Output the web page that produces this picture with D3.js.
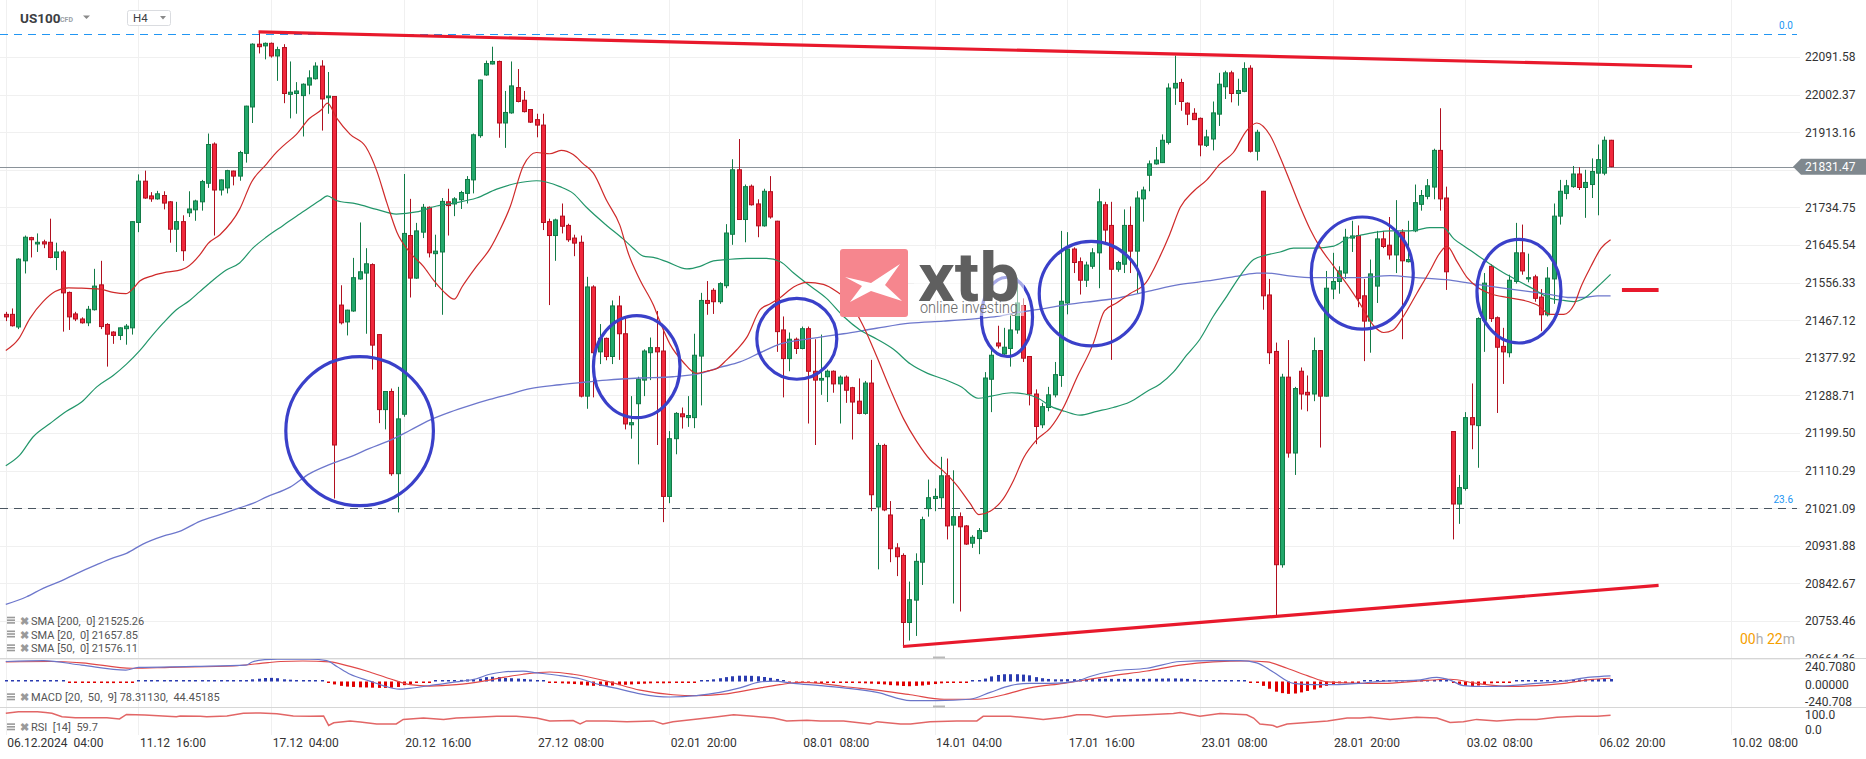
<!DOCTYPE html>
<html><head><meta charset="utf-8">
<script src="https://cdn.jsdelivr.net/npm/d3@7"></script>
<style>
html,body{margin:0;padding:0;background:#fff;}
svg{display:block;font-family:Roboto,"Noto Sans",sans-serif;}
text{white-space:pre;}
</style></head><body>
<svg id="chart" width="1866" height="759"></svg>
<script>
// ---------- DATA ----------
const ohlc = [
[21481,21487,21465,21475],[21481,21495,21452,21454],[21451,21614,21446,21612],[21608,21668,21578,21664],[21663,21665,21616,21658],
[21648,21673,21629,21652],[21653,21658,21638,21648],[21652,21708,21614,21616],[21616,21651,21586,21629],[21629,21633,21440,21532],
[21533,21535,21444,21475],[21482,21487,21465,21470],[21470,21474,21459,21461],[21461,21501,21453,21493],[21492,21589,21490,21548],
[21551,21608,21446,21452],[21457,21460,21357,21434],[21439,21441,21411,21431],[21431,21450,21420,21449],[21447,21458,21409,21453],
[21449,21702,21433,21701],[21699,21813,21676,21797],[21797,21822,21755,21757],[21762,21771,21748,21755],[21755,21774,21753,21767],
[21763,21773,21730,21745],[21748,21750,21651,21683],[21683,21748,21629,21701],[21701,21716,21608,21632],[21722,21773,21712,21731],
[21729,21753,21703,21750],[21748,21800,21727,21796],[21792,21910,21781,21884],[21885,21889,21668,21776],[21776,21801,21763,21800],
[21781,21824,21768,21822],[21821,21822,21787,21809],[21809,21869,21798,21865],[21863,21976,21841,21975],[21973,22124,21935,22122],
[22122,22151,22100,22116],[22118,22126,22086,22124],[22124,22126,22090,22094],[22094,22116,22035,22109],[22114,22122,21982,22005],
[22003,22081,21946,22008],[22005,22032,21957,22011],[22000,22029,21903,22027],[22025,22060,22003,22042],[22040,22079,22038,22070],
[22070,22084,21917,21992],[21995,22056,21957,21999],[21998,21999,21044,21171],[21503,21550,21457,21461],[21463,21492,21431,21491],
[21489,21615,21487,21568],[21565,21699,21563,21582],[21579,21638,21435,21601],[21599,21602,21350,21408],[21433,21434,21223,21255],
[21255,21299,21208,21298],[21298,21305,21098,21103],[21103,21309,21011,21233],[21244,21814,21238,21673],[21668,21755,21521,21567],
[21567,21698,21565,21679],[21676,21743,21662,21735],[21735,21737,21616,21627],[21625,21670,21546,21631],[21629,21757,21480,21749],
[21748,21779,21668,21739],[21743,21759,21714,21755],[21753,21774,21731,21770],[21768,21809,21744,21801],[21800,21910,21768,21907],
[21905,22038,21900,22037],[22049,22083,22047,22076],[22075,22116,22074,22081],[22081,22083,21900,21935],[21935,22011,21876,21960],
[21959,22081,21957,22023],[22019,22063,21984,21986],[21989,22011,21960,21962],[21967,21968,21935,21937],[21943,21957,21901,21930],
[21930,21957,21681,21699],[21701,21708,21503,21668],[21668,21708,21608,21705],[21714,21744,21673,21690],[21692,21696,21653,21658],
[21662,21670,21619,21650],[21652,21668,21284,21287],[21287,21570,21257,21546],[21546,21550,21284,21390],[21392,21458,21363,21424],
[21424,21426,21372,21381],[21381,21514,21363,21501],[21501,21525,21373,21435],[21435,21471,21208,21221],[21219,21287,21186,21224],
[21269,21333,21125,21327],[21325,21398,21287,21394],[21390,21426,21325,21402],[21402,21489,21171,21392],[21394,21446,20988,21049],
[21049,21204,21033,21186],[21186,21249,21149,21246],[21245,21260,21210,21238],[21236,21287,21214,21241],[21236,21435,21211,21384],
[21382,21532,21265,21514],[21514,21560,21480,21507],[21538,21543,21482,21511],[21511,21557,21506,21554],[21549,21695,21543,21674],
[21671,21849,21646,21824],[21824,21897,21705,21706],[21706,21789,21652,21784],[21785,21789,21739,21741],[21743,21754,21664,21691],
[21691,21779,21689,21773],[21772,21809,21708,21712],[21702,21703,21392,21440],[21444,21476,21284,21376],[21376,21438,21346,21422],
[21422,21426,21387,21400],[21400,21452,21398,21447],[21447,21452,21222,21346],[21346,21422,21171,21325],[21325,21433,21290,21329],
[21333,21350,21273,21346],[21346,21348,21295,21316],[21316,21336,21222,21332],[21332,21336,21271,21301],[21307,21309,21184,21273],
[21275,21329,21244,21246],[21246,21323,21243,21318],[21318,21373,21014,21053],[21024,21176,20876,21170],[21170,21174,21014,21017],
[21005,21038,20893,20925],[20927,20938,20860,20906],[20909,20914,20693,20750],[20750,20847,20707,20804],[20803,20914,20718,20895],
[20893,21001,20839,20994],[21020,21089,21001,21046],[21044,21068,21014,21049],[21046,21143,21022,21098],[21098,21139,20947,20979],
[20981,21111,20795,21001],[21001,21011,20776,20977],[20979,20981,20934,20936],[20938,20957,20927,20952],[20949,20974,20912,20968],
[20966,21344,20964,21330],[21327,21406,21249,21384],[21413,21454,21400,21406],[21387,21449,21384,21403],[21400,21481,21357,21444],
[21444,21568,21435,21508],[21502,21519,21368,21377],[21381,21382,21265,21292],[21292,21303,21173,21215],[21219,21271,21211,21262],
[21260,21309,21251,21290],[21290,21368,21284,21338],[21336,21679,21309,21512],[21508,21676,21481,21636],[21636,21640,21579,21604],
[21606,21616,21528,21562],[21562,21606,21546,21598],[21595,21638,21589,21627],[21627,21779,21543,21748],[21741,21748,21651,21681],
[21692,21748,21373,21588],[21588,21608,21582,21604],[21600,21730,21579,21692],[21692,21737,21579,21631],[21631,21773,21530,21757],
[21755,21784,21701,21776],[21811,21846,21773,21838],[21838,21878,21836,21847],[21841,21908,21840,21894],[21889,22029,21884,22018],
[22018,22095,21978,22029],[22031,22040,21964,21986],[21982,21984,21930,21956],[21958,21970,21942,21943],[21946,21948,21856,21883],
[21882,21919,21878,21902],[21897,21986,21870,21959],[21956,22054,21928,22027],[22021,22059,21992,22054],[22054,22059,21984,22005],
[22005,22040,21976,22012],[22010,22079,22008,22064],[22065,22072,21865,21868],[21868,21919,21846,21913],[21773,21774,21492,21525],
[21527,21565,21363,21390],[21393,21414,20763,20887],[20887,21340,20880,21332],[21332,21420,21141,21152],[21152,21309,21100,21305],
[21346,21355,21255,21292],[21296,21336,21251,21290],[21292,21426,21275,21395],[21395,21396,21165,21287],[21287,21584,21286,21543],
[21541,21627,21517,21559],[21559,21595,21530,21584],[21579,21684,21565,21664],[21662,21703,21629,21667],[21668,21692,21498,21519],
[21525,21565,21370,21465],[21465,21611,21390,21577],[21548,21679,21508,21660],[21660,21679,21638,21642],[21645,21712,21611,21622],
[21622,21752,21579,21676],[21676,21683,21422,21608],[21606,21703,21604,21611],[21679,21789,21676,21746],[21742,21776,21727,21763],
[21761,21802,21754,21786],[21783,21874,21754,21870],[21870,21970,21727,21755],[21757,21784,21539,21582],[21203,21204,20947,21031],
[21031,21100,20984,21070],[21068,21249,21063,21236],[21236,21317,21161,21219],[21217,21474,21117,21471],[21467,21579,21392,21555],
[21595,21600,21463,21471],[21473,21476,21247,21403],[21405,21449,21316,21392],[21390,21575,21379,21562],[21559,21698,21554,21627],
[21627,21694,21575,21584],[21565,21625,21557,21568],[21570,21575,21511,21519],[21522,21541,21441,21480],[21480,21593,21476,21567],
[21565,21744,21506,21714],[21714,21800,21694,21773],[21768,21800,21754,21786],[21784,21833,21781,21814],[21814,21830,21776,21782],
[21782,21824,21710,21794],[21789,21851,21757,21820],[21816,21884,21716,21848],[21816,21903,21811,21894],[21894,21895,21830,21831.47]
];

// moving averages: [candle number, value]
const sma20 = [[1,21395],[3,21422],[4.8,21471],[6.9,21511],[8.8,21535],[10.9,21544],[13,21543],[15.9,21541],[18,21533],[20,21530],[21.2,21543],[22.2,21560],[24.3,21573],[26.4,21581],[28.8,21587],[29.6,21592],[31.7,21622],[33,21649],[34.9,21670],[38,21730],[39.9,21795],[42.3,21838],[43.5,21860],[45,21882],[47,21908],[49,21945],[51,21967],[51.9,21982],[53.4,21946],[55.5,21908],[58,21878],[59.7,21822],[61.3,21746],[62.9,21676],[65,21627],[67.1,21595],[68.7,21562],[70.3,21535],[72,21517],[73.2,21546],[75.5,21595],[77.7,21638],[79.2,21681],[80.8,21735],[82.9,21833],[85,21865],[87.1,21862],[88.9,21870],[90.8,21860],[92.4,21838],[94,21816],[96.1,21751],[98.2,21692],[99.5,21627],[101.4,21562],[103.5,21503],[104.5,21465],[106.1,21411],[108.2,21368],[110.3,21341],[111.9,21346],[113.5,21352],[115.1,21373],[116.7,21397],[118.3,21427],[120.4,21492],[122,21506],[123.6,21521],[125.7,21546],[127.8,21557],[130.4,21552],[132.5,21535],[134.6,21508],[136.7,21454],[138.9,21379],[141,21303],[143.1,21233],[145.2,21179],[147.3,21136],[149.4,21109],[151.5,21076],[153.6,21033],[155,21006],[156.8,21014],[158.9,21044],[160.5,21087],[162.1,21141],[164.2,21184],[166.3,21211],[168.4,21260],[170.5,21330],[173.1,21411],[174.9,21489],[176.8,21508],[178.9,21530],[181.5,21557],[183.6,21616],[185.2,21670],[186.9,21735],[189,21773],[191.1,21800],[193.2,21838],[195.3,21865],[197.4,21917],[199,21935],[201.1,21906],[202.7,21854],[204.3,21795],[205.9,21735],[207.5,21681],[209.1,21638],[211.2,21595],[213.3,21552],[215.6,21500],[217.5,21454],[219.1,21438],[220.6,21444],[222.2,21476],[224.3,21530],[226.4,21584],[228,21627],[229.1,21643],[230.7,21606],[232.3,21568],[233.9,21546],[236,21530],[238.7,21521],[241.3,21514],[243.4,21503],[245.5,21481],[247.6,21481],[249.2,21503],[250.3,21546],[251.9,21595],[253.5,21638],[255,21658]];
const sma50 = [[1,21122],[3.2,21147],[5.3,21190],[8,21222],[10.6,21251],[13,21273],[15.4,21309],[18,21336],[20.1,21363],[22.2,21395],[23.8,21424],[25.9,21460],[28,21492],[30.1,21514],[31.7,21535],[33.8,21562],[35.9,21586],[38,21603],[40.1,21638],[42.3,21665],[44.9,21692],[47,21714],[49.1,21735],[50.7,21751],[51.9,21762],[53.3,21751],[56.5,21743],[59.7,21730],[62.8,21719],[66,21724],[69.2,21738],[72.3,21746],[75.5,21757],[78.7,21778],[81.8,21792],[85,21798],[88.7,21784],[90.8,21768],[92.9,21735],[96.1,21692],[98.7,21660],[100.3,21638],[101.9,21619],[103.5,21616],[105.6,21606],[108.8,21589],[110.9,21595],[113,21608],[115.1,21611],[118.3,21614],[121.4,21614],[123.6,21606],[125.7,21579],[127.8,21554],[130.9,21519],[133.6,21476],[136.2,21444],[138.9,21422],[141.5,21398],[144.2,21363],[146.9,21341],[149.5,21327],[152.2,21309],[154.9,21282],[157,21287],[160.2,21295],[162.3,21292],[164.4,21282],[166.5,21262],[168.6,21251],[171,21242],[173.7,21251],[176.3,21260],[178.9,21273],[181.6,21298],[183.7,21316],[185.8,21344],[187.9,21384],[190,21422],[192.1,21476],[194.3,21525],[196.4,21573],[198.5,21611],[200.6,21622],[202.7,21629],[204.8,21638],[208,21638],[211.2,21643],[213.5,21662],[215.9,21670],[218,21676],[220.1,21679],[222.2,21679],[224.3,21681],[226.4,21687],[228.5,21687],[230.2,21660],[232.3,21638],[234.9,21611],[237.6,21584],[240.2,21562],[242.8,21541],[245.5,21519],[247.6,21514],[249.2,21511],[250.8,21519],[252.9,21546],[255,21576]];
const sma200 = [[1,20793],[4.3,20811],[6.9,20831],[9.5,20847],[12.2,20866],[15.4,20887],[18,20903],[20.1,20914],[22.7,20936],[25.9,20955],[28.5,20966],[31.7,20990],[34.9,21006],[38,21022],[40.2,21033],[42.3,21048],[46,21071],[49.1,21103],[52.3,21125],[55.5,21143],[58.6,21163],[61.8,21182],[65,21206],[68.1,21230],[71.3,21249],[74.5,21265],[77.6,21279],[80.8,21292],[84,21305],[88.7,21314],[91.9,21319],[96.1,21325],[101.4,21330],[106.6,21333],[110.9,21341],[114,21355],[117.2,21368],[120.4,21390],[123.6,21411],[126.7,21420],[129.9,21427],[133.6,21435],[138.8,21448],[144.1,21460],[149.4,21465],[154.7,21471],[157.9,21476],[161,21485],[164.2,21492],[168.4,21503],[172,21510],[176.3,21518],[181.6,21535],[186.9,21552],[192.1,21562],[196.4,21573],[199,21579],[200.6,21579],[203.8,21573],[208,21568],[211.2,21568],[215.4,21568],[220.1,21573],[224.3,21568],[229.6,21562],[233.8,21552],[238,21543],[242.2,21535],[245.5,21528],[248.6,21521],[250.8,21521],[252.9,21525],[255,21525]];

// MACD [20,50,9]
const macdLine = [[1,275],[7,288],[13,225],[20,156],[22,194],[31,207],[39,225],[40,269],[42,300],[44,307],[46,307],[49.1,307],[51.8,288],[53.4,207],[55.5,100],[58.6,6],[60.7,-56],[63.3,-106],[64.9,-94],[69.1,-44],[72.3,-6],[75.5,38],[77.6,100],[79.7,131],[82.9,144],[85,119],[87.1,100],[88.7,81],[91.9,38],[95,-44],[98.2,-106],[101.4,-169],[106.1,-213],[110.3,-194],[114,-150],[117.2,-88],[120.4,-6],[122.5,6],[125.7,-25],[129.9,-56],[133.6,-88],[138.9,-150],[144.2,-263],[148.4,-263],[153.6,-244],[156.8,-150],[160,-56],[163.1,-25],[166.3,-25],[170.5,6],[172.6,69],[176.3,144],[181.6,182],[186.9,275],[192.1,288],[196.4,288],[199,257],[201.6,131],[204.8,-25],[208,-44],[211.2,-44],[215.4,-25],[219.1,6],[224.3,19],[227.5,56],[229.6,19],[231.7,-56],[234.9,-69],[239.1,-56],[243.3,-25],[247.6,6],[251.8,60],[255,78.3]];
const signalLine = [[1,269],[8,275],[13,257],[21,182],[27,194],[37,213],[42.5,260],[44.5,275],[48,282],[52.3,269],[55.5,207],[58.6,131],[61.8,38],[65,-44],[68.1,-63],[72.3,-44],[76.6,6],[79.7,56],[82.9,100],[87.1,131],[90.8,100],[96.1,6],[101.4,-119],[106.6,-182],[110.3,-194],[115.1,-169],[119.3,-106],[123.5,-44],[126.7,-13],[129.9,-25],[133.6,-69],[138.9,-119],[144.2,-182],[149.5,-244],[154.8,-244],[159,-182],[163.1,-88],[168.4,-25],[171,10],[176.3,81],[181.6,144],[186.9,225],[192.1,269],[197.4,282],[200.6,269],[203.8,182],[207,81],[210.2,-6],[215.4,-25],[219.1,-25],[224.3,6],[229.6,31],[233.8,-25],[239.1,-69],[243.3,-56],[247.6,-25],[251.8,25],[255,44.5]];
const macdHist = [5,5,5,5,5,12,12,12,5,5,
-3,-6,-10,-15,-18,-20,-22,-22,-20,-18,-8,
2,5,8,10,10,8,6,4,
2,3,4,5,5,5,4,4,5,8,
30,38,48,50,45,
30,25,20,15,10,6,2,-5,-40,-60,-70,-75,-80,-82,-85,-88,-88,-85,-75,-50,-35,-20,-10,-5,2,8,12,18,22,28,32,38,60,65,62,48,45,40,35,28,20,10,
-15,-20,-25,-30,-35,-45,-55,-60,-60,-58,-55,-50,-45,-40,-35,-30,-25,-22,-25,-22,-18,-12,-6,-2,5,15,30,45,60,72,80,80,78,72,62,50,35,15,-3,-8,-10,-12,-14,-15,
-15,-15,-15,-18,-20,-22,-25,-30,-35,-40,-50,-55,-62,-65,-60,-55,-45,-35,-25,-15,-8,-4,-2,2,5,40,70,90,100,100,100,95,85,60,45,35,30,30,32,32,32,32,
35,38,38,36,36,36,35,36,36,38,38,40,42,42,40,36,30,20,10,8,8,6,4,2,2,-2,-20,-60,-100,-140,-160,-170,-165,-150,-130,-110,-85,-60,-40,-25,-12,-5,-2,
3,5,6,8,9,10,11,12,13,14,15,15,12,6,-12,-45,-60,-65,-55,-40,-25,-15,-8,-2,5,8,10,10,8,6,10,18,22,26,28,30,32,33,34,34];

// RSI [14]
const rsi14 = [[1,65],[3,69],[6,69],[7.3,67],[8.3,65],[9.9,56],[12,53],[17,53],[19,50],[20.1,62],[23,60.5],[28,56],[28.6,58],[31.8,57],[32.8,56],[36,58],[38.6,65],[41.3,66],[43.9,64],[46.5,58],[49.2,57],[51.3,58],[52.1,33],[52.9,40],[55.5,45],[57.1,42],[59.7,37],[62.8,37],[63.9,49],[67.1,52.6],[70.3,49],[72.3,52.6],[75.5,54.7],[78.7,57],[81.8,57],[85,52.6],[87.1,45],[90.8,46],[91.9,37],[92.9,45],[96.1,45],[99.3,43],[103.5,45],[105,37],[106.6,43],[109.8,49],[113,54.7],[116.2,60.9],[119.3,57],[122.5,52.6],[124.6,45],[127.8,47],[129.9,45],[133.6,45],[137.8,37],[138.9,43],[142.6,37],[144.2,37],[147.3,43],[151.5,45],[154.7,45],[155.7,57],[160,57],[163.1,52.6],[165.2,49],[168.4,54.7],[170.5,60.9],[172.6,60.9],[175.2,54.7],[176.3,57],[181.6,61],[185.8,64.5],[186.9,66.8],[190,57],[193.2,64.5],[197.4,61],[198.5,52.6],[199.5,37],[201.6,33],[202.2,28.5],[203.8,37],[207,41],[210.2,45],[213.3,52.6],[215.4,52.6],[217,54.7],[220.1,49],[224.3,54.7],[227.5,52.6],[229.6,41],[231.7,43],[233.8,49],[237,45],[240.2,49],[243.3,49],[246.5,54.7],[249.7,57],[252.9,57],[255,59.7]];

// axes
const priceTicks = [22091.58,22002.37,21913.16,21823.95,21734.75,21645.54,21556.33,21467.12,21377.92,21288.71,21199.50,21110.29,21021.09,20931.88,20842.67,20753.46,20664.26];
const timeTickIdx = [1,22,43,64,85,106,127,148,169,190,211,232,253,274];
const timeLabels = ["06.12.2024  04:00","11.12  16:00","17.12  04:00","20.12  16:00","27.12  08:00","02.01  20:00","08.01  08:00","14.01  04:00","17.01  16:00","23.01  08:00","28.01  20:00","03.02  08:00","06.02  20:00","10.02  08:00"];
const lastPrice = 21831.47;

// annotations (candle number, price)
const fibLevels = [["0.0",22146.2,"#2196f3"],["23.6",21022.3,"#4a5560"]];
const trendLines = [[[41,22151],[267.9,22069]],[[143,20693],[262.6,20838]]];
const levelMark = [[256.8,21539],[262.6,21539]];
const circles = [[57.0,21204,11.68,176.8],[100.86,21357,6.85,121],[126.2,21423,6.33,96],[159.47,21475,4.04,94],[172.8,21530,8.23,124],[215.7,21579,8.07,133],[240.5,21536,6.65,123]];
const legendSMA = ["SMA [200,  0] 21525.26","SMA [20,  0] 21657.85","SMA [50,  0] 21576.11"];
const legendMACD = "MACD [20,  50,  9] 78.31130,  44.45185";
const legendRSI = "RSI  [14]  59.7";

// ---------- SCALES ----------
const svg = d3.select("#chart");
const x = d3.scaleLinear().domain([1,274]).range([5.8, 5.8+273*6.318]);
const y = d3.scaleLinear().domain([20664.26,22091.58]).range([658.6,57]);
const yM = d3.scaleLinear().domain([-240.708,240.708]).range([699,664]);
const yR = d3.scaleLinear().domain([0,100]).range([738,700]);

const GREEN="#22a86b", GREEN_D="#127a46", RED="#f0283c", RED_D="#b0101f";

const defs = svg.append("defs");
defs.append("clipPath").attr("id","cMain").append("rect").attr("x",0).attr("y",0).attr("width",1800).attr("height",658);
defs.append("clipPath").attr("id","cMacd").append("rect").attr("x",0).attr("y",659).attr("width",1800).attr("height",48);
defs.append("clipPath").attr("id","cRsi").append("rect").attr("x",0).attr("y",708).attr("width",1800).attr("height",27);
defs.append("clipPath").attr("id","cAxis").append("rect").attr("x",1790).attr("y",0).attr("width",80).attr("height",658);

// ---------- GRID ----------
const grid = svg.append("g");
grid.selectAll("line.h").data(priceTicks).join("line")
  .attr("x1",0).attr("x2",1800).attr("y1",d=>Math.round(y(d))+0.5).attr("y2",d=>Math.round(y(d))+0.5)
  .attr("stroke","#f0f0f0");
grid.selectAll("line.v").data(timeTickIdx).join("line")
  .attr("x1",d=>Math.round(x(d))+0.5).attr("x2",d=>Math.round(x(d))+0.5).attr("y1",0).attr("y2",735)
  .attr("stroke","#f0f0f0");

// panel separators
[658.5,707.5].forEach(v=>svg.append("line").attr("x1",0).attr("x2",1866).attr("y1",v).attr("y2",v).attr("stroke","#d6d6d6"));

// ---------- MAIN PANEL ----------
const main = svg.append("g").attr("clip-path","url(#cMain)");

// fib levels
main.selectAll("line.fib").data(fibLevels).join("line")
  .attr("x1",0).attr("x2",1797).attr("y1",d=>Math.round(y(d[1]))+0.5).attr("y2",d=>Math.round(y(d[1]))+0.5)
  .attr("stroke",d=>d[2]).attr("stroke-dasharray","8,6");
svg.selectAll("text.fib").data(fibLevels).join("text")
  .attr("x",1793).attr("y",d=>y(d[1])-5).attr("text-anchor","end")
  .attr("font-size",10).attr("fill","#2196f3").text(d=>d[0]);

// current price line
main.append("line").attr("x1",0).attr("x2",1795).attr("y1",Math.round(y(lastPrice))+0.5).attr("y2",Math.round(y(lastPrice))+0.5)
  .attr("stroke","#8a9299").attr("stroke-width",1);

// candles
const cg = main.append("g");
const cand = cg.selectAll("g.c").data(ohlc).join("g");
cand.append("line")
  .attr("x1",(d,i)=>Math.round(x(i+1))+0.5).attr("x2",(d,i)=>Math.round(x(i+1))+0.5)
  .attr("y1",d=>y(d[1])).attr("y2",d=>y(d[2]))
  .attr("stroke",d=>d[3]>=d[0]?GREEN_D:RED_D).attr("stroke-width",1);
cand.append("rect")
  .attr("x",(d,i)=>Math.round(x(i+1))-1.5).attr("width",4)
  .attr("y",d=>y(Math.max(d[0],d[3])))
  .attr("height",d=>Math.max(1,Math.abs(y(d[0])-y(d[3]))))
  .attr("fill",d=>d[3]>=d[0]?GREEN:RED)
  .attr("stroke",d=>d[3]>=d[0]?GREEN_D:RED_D).attr("stroke-width",1);

// moving averages
const lineMain = d3.line().x(d=>x(d[0])).y(d=>y(d[1])).curve(d3.curveMonotoneX);
main.append("path").datum(sma200).attr("d",lineMain).attr("fill","none").attr("stroke","#6d77cc").attr("stroke-width",1.3);
main.append("path").datum(sma50).attr("d",lineMain).attr("fill","none").attr("stroke","#22966a").attr("stroke-width",1.2);
main.append("path").datum(sma20).attr("d",lineMain).attr("fill","none").attr("stroke","#cf2a2a").attr("stroke-width",1.2);

// trend lines
main.selectAll("line.tr").data(trendLines).join("line")
  .attr("x1",d=>x(d[0][0])).attr("y1",d=>y(d[0][1])).attr("x2",d=>x(d[1][0])).attr("y2",d=>y(d[1][1]))
  .attr("stroke","#e8192c").attr("stroke-width",3.2);
svg.append("line").attr("x1",x(levelMark[0][0])).attr("y1",y(levelMark[0][1])).attr("x2",x(levelMark[1][0])).attr("y2",y(levelMark[1][1]))
  .attr("stroke","#e8192c").attr("stroke-width",4);

// circles
main.selectAll("ellipse").data(circles).join("ellipse")
  .attr("cx",d=>x(d[0])).attr("cy",d=>y(d[1]))
  .attr("rx",d=>x(d[0]+d[2])-x(d[0])).attr("ry",d=>y(d[1]-d[3])-y(d[1]))
  .attr("fill","none").attr("stroke","#3a40c9").attr("stroke-width",3.2);

// small resize grips
[657.5,706.5].forEach(v=>svg.append("rect").attr("x",933).attr("y",v-1).attr("width",12).attr("height",2).attr("fill","#b9b9b9"));

// ---------- LOGO ----------
const logo = svg.append("g");
logo.append("rect").attr("x",914).attr("y",249).attr("width",110).attr("height",67).attr("fill","#fff").attr("opacity",0.55);
logo.append("rect").attr("x",840).attr("y",249).attr("width",68).attr("height",68).attr("rx",3).attr("fill","#f6868e");
logo.append("path").attr("d","M845,277 L871,283 L900,264 L885,285 L902,301 L871,291 L850,302 L862,286 Z").attr("fill","#fff");
logo.append("text").attr("x",918).attr("y",301).attr("font-size",68).attr("font-weight",700)
  .attr("fill","#5f5f5f").attr("textLength",102).attr("lengthAdjust","spacingAndGlyphs").text("xtb");
logo.append("text").attr("x",920).attr("y",313).attr("font-size",17).attr("font-weight",300)
  .attr("fill","#666").attr("textLength",98).attr("lengthAdjust","spacingAndGlyphs").text("online investing");

// ---------- MACD PANEL ----------
const mg = svg.append("g").attr("clip-path","url(#cMacd)");
mg.selectAll("rect.h").data(macdHist).join("rect")
  .attr("x",(d,i)=>Math.round(x(i+1))-1).attr("width",3)
  .attr("y",d=>d>=0?Math.min(yM(d),yM(0)-1.5):yM(0))
  .attr("height",d=>Math.max(1.5,Math.abs(yM(d)-yM(0))))
  .attr("fill",d=>d>=0?"#2a3bb0":"#e00000");
const lineM = d3.line().x(d=>x(d[0])).y(d=>yM(d[1])).curve(d3.curveMonotoneX);
mg.append("path").datum(signalLine).attr("d",lineM).attr("fill","none").attr("stroke","#e04848").attr("stroke-width",1.2);
mg.append("path").datum(macdLine).attr("d",lineM).attr("fill","none").attr("stroke","#6a75c9").attr("stroke-width",1.2);

// ---------- RSI PANEL ----------
const rg = svg.append("g").attr("clip-path","url(#cRsi)");
rg.append("path").datum(rsi14).attr("d",d3.line().x(d=>x(d[0])).y(d=>yR(d[1])))
  .attr("fill","none").attr("stroke","#e26666").attr("stroke-width",1.5);

// ---------- AXES ----------
const yAxisWrap = svg.append("g").attr("clip-path","url(#cAxis)");
const yAxisG = yAxisWrap.append("g").attr("transform","translate(1805,0)")
  .call(d3.axisRight(y).tickValues(priceTicks).tickFormat(d=>d.toFixed(2)).tickSize(0).tickPadding(0));
yAxisG.select(".domain").remove();
yAxisG.selectAll("text").attr("font-size",12).attr("fill","#333").attr("font-family","Roboto");

const mAxisG = svg.append("g").attr("transform","translate(1805,3)")
  .call(d3.axisRight(yM).tickValues([240.708,0,-240.708]).tickFormat(d=>d===0?"0.00000":(d>0?"240.7080":"-240.708")).tickSize(0).tickPadding(0));
mAxisG.select(".domain").remove();
mAxisG.selectAll("text").attr("font-size",12).attr("fill","#333").attr("font-family","Roboto");

svg.append("text").attr("x",1805).attr("y",719).attr("font-size",12).attr("fill","#333").text("100.0");
svg.append("text").attr("x",1805).attr("y",734).attr("font-size",12).attr("fill","#333").text("0.0");

const xAxisG = svg.append("g").attr("transform","translate(0,736)")
  .call(d3.axisBottom(x).tickValues(timeTickIdx).tickFormat((d,i)=>timeLabels[i]).tickSize(0).tickPadding(2));
xAxisG.select(".domain").remove();
xAxisG.selectAll("text").attr("font-size",12).attr("fill","#333").attr("text-anchor","start").attr("dx",1).attr("font-family","Roboto");

// current price tag
const ty = y(lastPrice);
svg.append("path").attr("d",`M1793,${ty} L1801,${ty-8} L1866,${ty-8} L1866,${ty+8} L1801,${ty+8} Z`).attr("fill","#7f888e");
svg.append("text").attr("x",1805).attr("y",ty+4.3).attr("font-size",12).attr("fill","#fff").text(lastPrice.toFixed(2));

// countdown
const cd = svg.append("text").attr("x",1740).attr("y",644).attr("font-size",14);
cd.append("tspan").attr("fill","#f5a000").text("00");
cd.append("tspan").attr("fill","#b0b0b0").text("h ");
cd.append("tspan").attr("fill","#f5a000").text("22");
cd.append("tspan").attr("fill","#b0b0b0").text("m");

// ---------- LEGENDS ----------
function legendRow(yc, label){
  const g = svg.append("g");
  [0,3,6].forEach(o=>g.append("rect").attr("x",7).attr("y",yc-4+o*0.9).attr("width",8).attr("height",1.6).attr("fill","#9a9a9a"));
  g.append("text").attr("x",19.5).attr("y",yc+4).attr("font-size",11).attr("font-weight",700).attr("fill","#9a9a9a").text("✖");
  g.append("text").attr("x",31).attr("y",yc+4).attr("font-size",11).attr("fill","#555").text(label);
}
legendSMA.forEach((t,i)=>legendRow(620.7+i*13.8,t));
legendRow(697.3,legendMACD);
legendRow(727.3,legendRSI);

// ---------- HEADER ----------
svg.append("text").attr("x",20).attr("y",23).attr("font-size",13.5).attr("font-weight",700).attr("fill","#3c4043").text("US100");
svg.append("text").attr("x",60).attr("y",22).attr("font-size",7).attr("font-weight",700).attr("fill","#9aa0a6").text("CFD");
svg.append("path").attr("d","M83,15.5 L90,15.5 L86.5,19 Z").attr("fill","#8a8a8a");
svg.append("rect").attr("x",127.5).attr("y",10.5).attr("width",43).attr("height",15).attr("rx",2).attr("fill","#fff").attr("stroke","#dadce0");
svg.append("text").attr("x",133).attr("y",22).attr("font-size",11.5).attr("fill","#3c4043").text("H4");
svg.append("path").attr("d","M160,16 L166,16 L163,19.5 Z").attr("fill","#8a8a8a");
</script>
</body></html>
